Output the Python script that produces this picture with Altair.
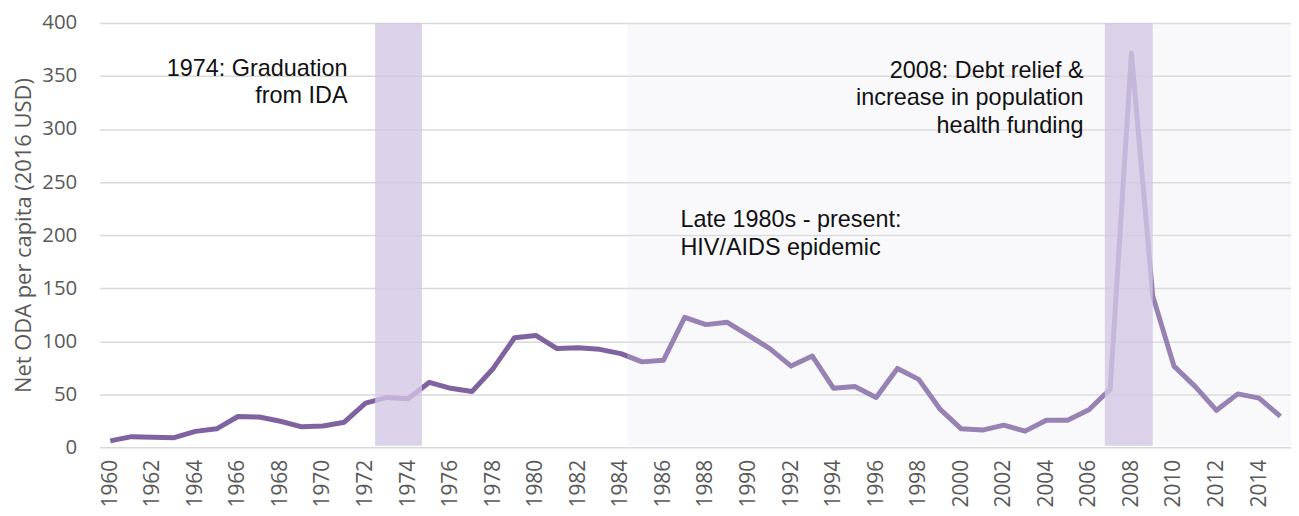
import altair as alt
import pandas as pd

years = list(range(1960, 2016))
oda = [6, 10, 9.5, 9, 15, 17.4, 29, 28.5, 24.5, 19.3,
       20, 23.6, 41.6, 47, 45.7, 61.2, 55.6, 52.5, 74.3, 103.2,
       105.4, 93, 93.9, 92.3, 88.3, 80.5, 82, 122.4, 115.6, 117.8,
       105.4, 93, 76.5, 86, 55.6, 57.2, 46.9, 74.3, 64, 36,
       17.4, 16.2, 20.8, 15.2, 25.5, 25.5, 35.4, 54.7, 371.7, 142.7,
       76.5, 57.2, 34.8, 50.3, 46.3, 29.2]

band_start = [1972.45, 2006.75]
band_end = [1974.65, 2009.0]

hiv_start = [1984.3]
hiv_end = [2015.5]

ann_text = ["1974: Graduation", "from IDA",
            "2008: Debt relief &", "increase in population", "health funding",
            "Late 1980s - present:", "HIV/AIDS epidemic"]
ann_x = [1971.15, 1971.15, 2005.75, 2005.75, 2005.75, 1986.8, 1986.8]
ann_y = [357, 331, 355, 329, 303, 214.5, 188]
ann_align = ["right", "right", "right", "right", "right", "left", "left"]

tick_years = list(range(1960, 2015, 2))

df = pd.DataFrame({"year": years, "oda": oda})
bands = pd.DataFrame({"x": band_start, "x2": band_end, "y": [1.5] * 2, "y2": [400] * 2})
hiv = pd.DataFrame({"x": hiv_start, "x2": hiv_end, "y": [1.5], "y2": [400]})
ann = pd.DataFrame({"t": ann_text, "x": ann_x, "y": ann_y, "a": ann_align})

xscale = alt.Scale(domain=[1959.5, 2015.5], nice=False, zero=False)
yscale = alt.Scale(domain=[0, 400], nice=False)

line = alt.Chart(df).mark_line(color="#7f63a1", strokeWidth=5, strokeJoin="round").encode(
    x=alt.X("year:Q", scale=xscale,
            axis=alt.Axis(values=tick_years, format="d", labelAngle=270, ticks=False,
                          domain=False, grid=False, labelPadding=12, labelFontSize=21,
                          labelFont="Open Sans", labelColor="#595959", title=None)),
    y=alt.Y("oda:Q", scale=yscale,
            axis=alt.Axis(values=[0, 50, 100, 150, 200, 250, 300, 350, 400], ticks=False,
                          domain=False, grid=True, gridColor="#d9d9d9", gridWidth=1.5,
                          labelPadding=23, labelFontSize=20.5, labelFont="Open Sans",
                          labelColor="#595959",
                          title="Net ODA per capita (2016 USD)", titleFont="Open Sans",
                          titleFontSize=22, titleFontWeight="normal", titleColor="#595959",
                          titlePadding=6)),
)

hiv_rect = alt.Chart(hiv).mark_rect(color="#e8e8f3", opacity=0.24).encode(
    x=alt.X("x:Q", scale=xscale), x2="x2:Q",
    y=alt.Y("y:Q", scale=yscale), y2="y2:Q",
)

band_rect = alt.Chart(bands).mark_rect(color="#d2c7e4", opacity=0.78).encode(
    x=alt.X("x:Q", scale=xscale), x2="x2:Q",
    y=alt.Y("y:Q", scale=yscale), y2="y2:Q",
)

text_right = alt.Chart(ann[ann.a == "right"]).mark_text(
    align="right", baseline="middle", font="Liberation Sans", fontSize=23.5, color="#111111"
).encode(x=alt.X("x:Q", scale=xscale), y=alt.Y("y:Q", scale=yscale), text="t:N")

text_left = alt.Chart(ann[ann.a == "left"]).mark_text(
    align="left", baseline="middle", font="Liberation Sans", fontSize=23.5, color="#111111"
).encode(x=alt.X("x:Q", scale=xscale), y=alt.Y("y:Q", scale=yscale), text="t:N")

chart = alt.layer(line, hiv_rect, band_rect, text_right, text_left).properties(
    width=1196, height=426,
    autosize=alt.AutoSizeParams(type="none"),
    padding={"left": 92, "top": 14, "right": 0, "bottom": 60},
).configure_view(stroke=None)

chart.save("out.html", embed_options={"renderer": "svg", "actions": False})
